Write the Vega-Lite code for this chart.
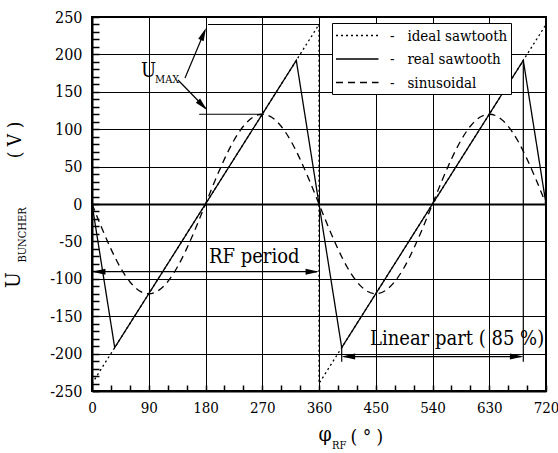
{
  "$schema": "https://vega.github.io/schema/vega-lite/v6.json",
  "width": 454,
  "height": 374,
  "autosize": {"type": "none"},
  "padding": {"left": 92, "top": 17, "right": 12, "bottom": 62},
  "background": "white",
  "config": {
    "font": "DejaVu Serif Condensed",
    "view": {"stroke": "black", "strokeWidth": 2},
    "legend": {
      "orient": "none",
      "legendX": 240,
      "legendY": 6,
      "symbolType": "M-1,0L4,0",
      "symbolSize": 289,
      "symbolStrokeWidth": 1.3,
      "symbolStrokeColor": "black",
      "symbolFillColor": "transparent",
      "labelFont": "DejaVu Serif Condensed",
      "labelFontSize": 15,
      "labelColor": "black",
      "labelOffset": 36,
      "strokeColor": "black",
      "fillColor": "white",
      "padding": 3,
      "rowPadding": 5.5,
      "cornerRadius": 0
    }
  },
  "encoding": {
    "x": {
      "field": "x",
      "type": "quantitative",
      "scale": {"domain": [0, 720], "nice": false, "zero": false},
      "axis": {
        "title": null,
        "values": [0,30,60,90,120,150,180,210,240,270,300,330,360,390,420,450,480,510,540,570,600,630,660,690,720],
        "labelExpr": "datum.value % 90 === 0 ? '' + datum.value : ''",
        "labelFont": "DejaVu Serif Condensed",
        "labelFontSize": 15,
        "labelColor": "black",
        "labelFlush": false,
        "labelOverlap": false,
        "labelPadding": 15,
        "tickSize": -6,
        "tickColor": "black",
        "tickWidth": 1.5,
        "domainColor": "black",
        "domainWidth": 2,
        "grid": true,
        "gridColor": "black",
        "gridWidth": 1,
        "gridOpacity": {"condition": {"test": "datum.value % 90 === 0 && datum.value > 0 && datum.value < 720", "value": 1}, "value": 0},
        "encode": {"ticks": {"update": {"y2": {"value": -6}}}}
      }
    },
    "y": {
      "field": "y",
      "type": "quantitative",
      "scale": {"domain": [-250, 250], "nice": false, "zero": false},
      "axis": {
        "title": null,
        "values": [-250,-240,-230,-220,-210,-200,-190,-180,-170,-160,-150,-140,-130,-120,-110,-100,-90,-80,-70,-60,-50,-40,-30,-20,-10,0,10,20,30,40,50,60,70,80,90,100,110,120,130,140,150,160,170,180,190,200,210,220,230,240,250],
        "labelExpr": "datum.value % 50 === 0 ? '' + datum.value : ''",
        "labelFont": "DejaVu Serif Condensed",
        "labelFontSize": 16,
        "labelColor": "black",
        "labelFlush": false,
        "labelOverlap": false,
        "labelPadding": 17,
        "tickSize": -7,
        "tickColor": "black",
        "tickWidth": 1.5,
        "domainColor": "black",
        "domainWidth": 2,
        "grid": true,
        "gridColor": "black",
        "gridWidth": {"condition": {"test": "datum.value === 0", "value": 2}, "value": 1},
        "gridOpacity": {"condition": {"test": "datum.value % 50 === 0 && abs(datum.value) < 250", "value": 1}, "value": 0},
        "encode": {"ticks": {"update": {"x2": {"signal": "datum.value % 50 === 0 ? 10 : 7"}}}}
      }
    }
  },
  "layer": [
    {
      "data": {"values": [
        {"series": "ideal sawtooth", "i": 0, "x": 0, "y": -240},
        {"series": "ideal sawtooth", "i": 1, "x": 360, "y": 240},
        {"series": "ideal sawtooth", "i": 2, "x": 360, "y": -240},
        {"series": "ideal sawtooth", "i": 3, "x": 720, "y": 240},
        {"series": "real sawtooth", "i": 0, "x": 0, "y": 0},
        {"series": "real sawtooth", "i": 1, "x": 36, "y": -192},
        {"series": "real sawtooth", "i": 2, "x": 324, "y": 192},
        {"series": "real sawtooth", "i": 3, "x": 396, "y": -192},
        {"series": "real sawtooth", "i": 4, "x": 684, "y": 192},
        {"series": "real sawtooth", "i": 5, "x": 720, "y": 0}
      ]},
      "mark": {"type": "line", "color": "black", "strokeWidth": 1.3},
      "encoding": {
        "order": {"field": "i", "type": "quantitative"},
        "strokeDash": {
          "field": "series",
          "type": "nominal",
          "scale": {"domain": ["ideal sawtooth", "real sawtooth", "sinusoidal"], "range": [[2, 3], [1, 0], [7, 5]]},
          "legend": {"title": null, "labelExpr": "'-\u00a0\u00a0\u00a0' + datum.label"}
        }
      }
    },
    {
      "data": {"values": [
        {"series": "sinusoidal", "x": 0, "y": 0},
        {"series": "sinusoidal", "x": 15, "y": -31.1},
        {"series": "sinusoidal", "x": 30, "y": -60},
        {"series": "sinusoidal", "x": 45, "y": -84.9},
        {"series": "sinusoidal", "x": 60, "y": -103.9},
        {"series": "sinusoidal", "x": 75, "y": -115.9},
        {"series": "sinusoidal", "x": 90, "y": -120},
        {"series": "sinusoidal", "x": 105, "y": -115.9},
        {"series": "sinusoidal", "x": 120, "y": -103.9},
        {"series": "sinusoidal", "x": 135, "y": -84.9},
        {"series": "sinusoidal", "x": 150, "y": -60},
        {"series": "sinusoidal", "x": 165, "y": -31.1},
        {"series": "sinusoidal", "x": 180, "y": 0},
        {"series": "sinusoidal", "x": 195, "y": 31.1},
        {"series": "sinusoidal", "x": 210, "y": 60},
        {"series": "sinusoidal", "x": 225, "y": 84.9},
        {"series": "sinusoidal", "x": 240, "y": 103.9},
        {"series": "sinusoidal", "x": 255, "y": 115.9},
        {"series": "sinusoidal", "x": 270, "y": 120},
        {"series": "sinusoidal", "x": 285, "y": 115.9},
        {"series": "sinusoidal", "x": 300, "y": 103.9},
        {"series": "sinusoidal", "x": 315, "y": 84.9},
        {"series": "sinusoidal", "x": 330, "y": 60},
        {"series": "sinusoidal", "x": 345, "y": 31.1},
        {"series": "sinusoidal", "x": 360, "y": 0},
        {"series": "sinusoidal", "x": 375, "y": -31.1},
        {"series": "sinusoidal", "x": 390, "y": -60},
        {"series": "sinusoidal", "x": 405, "y": -84.9},
        {"series": "sinusoidal", "x": 420, "y": -103.9},
        {"series": "sinusoidal", "x": 435, "y": -115.9},
        {"series": "sinusoidal", "x": 450, "y": -120},
        {"series": "sinusoidal", "x": 465, "y": -115.9},
        {"series": "sinusoidal", "x": 480, "y": -103.9},
        {"series": "sinusoidal", "x": 495, "y": -84.9},
        {"series": "sinusoidal", "x": 510, "y": -60},
        {"series": "sinusoidal", "x": 525, "y": -31.1},
        {"series": "sinusoidal", "x": 540, "y": 0},
        {"series": "sinusoidal", "x": 555, "y": 31.1},
        {"series": "sinusoidal", "x": 570, "y": 60},
        {"series": "sinusoidal", "x": 585, "y": 84.9},
        {"series": "sinusoidal", "x": 600, "y": 103.9},
        {"series": "sinusoidal", "x": 615, "y": 115.9},
        {"series": "sinusoidal", "x": 630, "y": 120},
        {"series": "sinusoidal", "x": 645, "y": 115.9},
        {"series": "sinusoidal", "x": 660, "y": 103.9},
        {"series": "sinusoidal", "x": 675, "y": 84.9},
        {"series": "sinusoidal", "x": 690, "y": 60},
        {"series": "sinusoidal", "x": 705, "y": 31.1},
        {"series": "sinusoidal", "x": 720, "y": 0}
      ]},
      "mark": {"type": "line", "color": "black", "strokeWidth": 1.3, "interpolate": "natural"},
      "encoding": {
        "strokeDash": {"field": "series", "type": "nominal"}
      }
    },
    {
      "data": {"values": [
        {"x": 184, "y": 240, "x2": 360, "y2": 240},
        {"x": 170, "y": 120, "x2": 270, "y2": 120},
        {"x": 147.5, "y": 168.4, "x2": 179, "y2": 231.5},
        {"x": 136.4, "y": 165.8, "x2": 180, "y2": 128},
        {"x": 3, "y": -90.5, "x2": 357, "y2": -90.5},
        {"x": 399, "y": -204, "x2": 681, "y2": -204},
        {"x": 684, "y": 192, "x2": 684, "y2": -211},
        {"x": 396, "y": -192, "x2": 396, "y2": -211}
      ]},
      "mark": {"type": "rule", "color": "black", "strokeWidth": 1.2},
      "encoding": {
        "x2": {"field": "x2"},
        "y2": {"field": "y2"}
      }
    },
    {
      "data": {"values": [{"x": 0, "y": -90.5}, {"x": 396, "y": -204}]},
      "mark": {"type": "point", "shape": "M0,0L-0.45,2L0.45,2Z", "filled": true, "color": "black", "opacity": 1, "size": 180, "angle": 270, "strokeWidth": 0},
      "encoding": {}
    },
    {
      "data": {"values": [{"x": 360, "y": -90.5}, {"x": 684, "y": -204}]},
      "mark": {"type": "point", "shape": "M0,0L-0.45,2L0.45,2Z", "filled": true, "color": "black", "opacity": 1, "size": 180, "angle": 90, "strokeWidth": 0},
      "encoding": {}
    },
    {
      "data": {"values": [{"x": 180.8, "y": 235.3}]},
      "mark": {"type": "point", "shape": "M0,0L-0.45,2L0.45,2Z", "filled": true, "color": "black", "opacity": 1, "size": 170, "angle": 23, "strokeWidth": 0},
      "encoding": {}
    },
    {
      "data": {"values": [{"x": 182.4, "y": 125.7}]},
      "mark": {"type": "point", "shape": "M0,0L-0.45,2L0.45,2Z", "filled": true, "color": "black", "opacity": 1, "size": 170, "angle": 136, "strokeWidth": 0},
      "encoding": {}
    },
    {
      "data": {"values": [
        {"x": 185.5, "y": -79, "label": "RF period"},
        {"x": 440.8, "y": -188.5, "label": "Linear part\u00a0( 85 %)"},
        {"x": 77.7, "y": 169.8, "label": "U"}
      ]},
      "mark": {"type": "text", "fontSize": 20, "color": "black", "align": "left", "baseline": "alphabetic"},
      "encoding": {"text": {"field": "label"}}
    },
    {
      "data": {"values": [{"x": 100, "y": 161.8, "label": "MAX"}]},
      "mark": {"type": "text", "fontSize": 11, "color": "black", "align": "left", "baseline": "alphabetic"},
      "encoding": {"text": {"field": "label"}}
    },
    {
      "data": {"values": [{"x": -123.7, "y": -101.6, "label": "U"}]},
      "mark": {"type": "text", "fontSize": 21, "color": "black", "align": "center", "baseline": "middle", "angle": 270},
      "encoding": {"text": {"field": "label"}}
    },
    {
      "data": {"values": [{"x": -109.4, "y": -41.4, "label": "BUNCHER"}]},
      "mark": {"type": "text", "fontSize": 11, "color": "black", "align": "center", "baseline": "middle", "angle": 270},
      "encoding": {"text": {"field": "label"}}
    },
    {
      "data": {"values": [{"x": -122, "y": 85.6, "label": "( V )"}]},
      "mark": {"type": "text", "fontSize": 19, "color": "black", "align": "center", "baseline": "middle", "angle": 270},
      "encoding": {"text": {"field": "label"}}
    },
    {
      "data": {"values": [{"x": 369.5, "y": -308.8, "label": "φ"}]},
      "mark": {"type": "text", "fontSize": 21, "color": "black", "align": "center", "baseline": "middle"},
      "encoding": {"text": {"field": "label"}}
    },
    {
      "data": {"values": [{"x": 436, "y": -311.5, "label": "( ° )"}]},
      "mark": {"type": "text", "fontSize": 19, "color": "black", "align": "center", "baseline": "middle"},
      "encoding": {"text": {"field": "label"}}
    },
    {
      "data": {"values": [{"x": 380.6, "y": -323.5, "label": "RF"}]},
      "mark": {"type": "text", "fontSize": 11, "color": "black", "align": "left", "baseline": "middle"},
      "encoding": {"text": {"field": "label"}}
    }
  ]
}
